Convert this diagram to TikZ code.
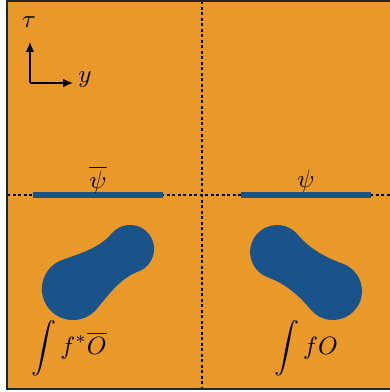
\documentclass[tikz,border=0pt]{standalone}
\usetikzlibrary{arrows.meta}
\definecolor{bgorange}{RGB}{233,152,42}
\definecolor{blobblue}{RGB}{26,82,138}
\begin{document}
\begin{tikzpicture}[x=0.4pt,y=-0.4pt,
  divider/.style={line width=0.7pt,dash pattern=on 1.2pt off 1.0pt},
  bar/.style={blobblue,line width=2.4pt},
  blob/.style={fill=blobblue},
  axisarrow/.style={line width=0.6pt,-{Latex[length=4pt,width=3.5pt]}},
  lbl/.style={inner sep=0pt}]
\useasboundingbox (0,0) rectangle (389,392);
\fill[bgorange] (7,1.5) rectangle (395,389);
% dashed dividers
\coordinate (vt) at (202,1.5);
\coordinate (vb) at (202,389);
\coordinate (hl) at (7,195);
\coordinate (hr) at (395,195);
\draw[divider] (vt) -- (vb);
\draw[divider] (hl) -- (hr);
% bars
\coordinate (b1l) at (33,195); \coordinate (b1r) at (163,195);
\coordinate (b2l) at (241,195); \coordinate (b2r) at (371,195);
\draw[bar] (b1l) -- (b1r);
\draw[bar] (b2l) -- (b2r);
\node[lbl] (psibar) at (98,180) {$\overline{\psi}$};
\node[lbl] (psi) at (306,181) {$\psi$};
% left blob
\begin{scope}[shift={(73,289)},x={(0.328pt,0.230pt)},y={(-0.230pt,0.328pt)}]
\path[blob] (8.0,29.9) .. controls +(18.4,-4.9) and +(-18.4,-4.9) .. (63.4,23.2)
  arc[start angle=105,end angle=-105,radius=24]
  .. controls +(-18.4,4.9) and +(18.4,4.9) .. (8.0,-29.9)
  arc[start angle=-75,end angle=-285,radius=31] -- cycle;
\end{scope}
% right blob
\begin{scope}[shift={(333,291)},x={(-0.328pt,0.229pt)},y={(-0.229pt,-0.328pt)}]
\path[blob] (7.5,28.0) .. controls +(18.4,-4.9) and +(-18.4,-4.9) .. (61.2,26.1)
  arc[start angle=105,end angle=-105,radius=27]
  .. controls +(-18.4,4.9) and +(18.4,4.9) .. (7.5,-28.0)
  arc[start angle=-75,end angle=-285,radius=29] -- cycle;
\end{scope}
% labels
\node[lbl] (intl) at (69,348) {$\displaystyle\int f^*\overline{O}$};
\node[lbl] (intr) at (306,348) {$\displaystyle\int fO$};
% axes
\coordinate (o) at (30,83);
\coordinate (ot) at (30,42);
\coordinate (oy) at (73,83);
\draw[axisarrow] (o) -- (ot);
\draw[axisarrow] (o) -- (oy);
\node[lbl] (tau) at (29,22) {$\tau$};
\node[lbl] (ylab) at (85,80) {$y$};
% border
\draw[line width=0.8pt,black!85] (7,1.5) rectangle (395,389);
\end{tikzpicture}
\end{document}
